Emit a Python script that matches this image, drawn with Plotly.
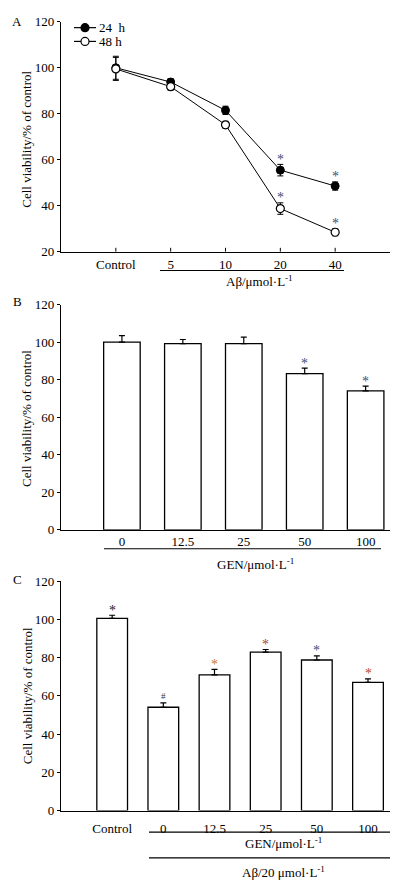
import plotly.graph_objects as go

W, H = 399, 894
FONT = "Liberation Serif"

# ---------------- data ----------------
# Panel A: Aβ concentration, line chart (24 h / 48 h)
a_cats = ["Control", "5", "10", "20", "40"]
a_24h = [100.0, 93.8, 81.5, 55.5, 48.6]
a_24h_err = [5.0, 1.5, 1.8, 2.5, 1.8]
a_48h = [99.5, 91.8, 75.2, 38.8, 28.5]
a_48h_err = [5.0, 1.5, 1.5, 2.5, 1.5]
a_sig = ["", "", "", "*", "*"]

# Panel B: GEN concentration
b_cats = ["0", "12.5", "25", "50", "100"]
b_vals = [100.0, 99.2, 99.2, 83.2, 74.0]
b_err = [3.5, 2.2, 3.5, 3.0, 2.6]
b_sig = ["", "", "", "*", "*"]

# Panel C: Aβ 20 µmol/L + GEN
c_cats = ["Control", "0", "12.5", "25", "50", "100"]
c_vals = [100.5, 54.0, 70.9, 82.8, 78.7, 67.0]
c_err = [1.6, 2.3, 2.9, 1.4, 2.2, 1.8]
c_sig = ["*", "#", "*", "*", "*", "*"]
c_sig_colors = ["#222222", "#333333", "#c9782c", "#a8452e", "#3b4f7a", "#b8452e"]

SIG_BLUE = "#3b4f7a"
A_YMIN = 20


def px(x):
    return x / W


def py(y):
    return 1 - y / H


fig = go.Figure()

# ---- Panel A ----
fig.add_trace(go.Scatter(
    x=a_cats, y=a_24h, mode="lines+markers", name="24  h",
    line=dict(color="black", width=1),
    marker=dict(symbol="circle", size=8, color="black", line=dict(color="black", width=1)),
    error_y=dict(type="data", array=a_24h_err, color="black", thickness=1, width=3),
    xaxis="x", yaxis="y", showlegend=False))
fig.add_trace(go.Scatter(
    x=a_cats, y=a_48h, mode="lines+markers", name="48 h",
    line=dict(color="black", width=1),
    marker=dict(symbol="circle", size=8, color="white", line=dict(color="black", width=1.2)),
    error_y=dict(type="data", array=a_48h_err, color="black", thickness=1, width=3),
    xaxis="x", yaxis="y", showlegend=False))

# ---- Panel B ----
fig.add_trace(go.Bar(
    x=b_cats, y=b_vals, width=0.6,
    marker=dict(color="white", line=dict(color="black", width=1.3)),
    error_y=dict(type="data", array=b_err, arrayminus=[0] * len(b_err), symmetric=False,
                 color="black", thickness=1.2, width=3),
    xaxis="x2", yaxis="y2", showlegend=False))

# ---- Panel C ----
fig.add_trace(go.Bar(
    x=c_cats, y=c_vals, width=0.6,
    marker=dict(color="white", line=dict(color="black", width=1.3)),
    error_y=dict(type="data", array=c_err, arrayminus=[0] * len(c_err), symmetric=False,
                 color="black", thickness=1.2, width=3),
    xaxis="x3", yaxis="y3", showlegend=False))

axis_common = dict(showline=True, linecolor="black", linewidth=1.2, showgrid=False,
                   zeroline=False, tickfont=dict(family=FONT, size=13, color="black"),
                   tickcolor="black", tickwidth=1)

xdom = [px(61), px(390)]
fig.update_layout(
    width=W, height=H,
    margin=dict(l=0, r=0, t=0, b=0),
    paper_bgcolor="white", plot_bgcolor="white",
    font=dict(family=FONT, size=13, color="black"),
    xaxis=dict(**axis_common, domain=xdom, anchor="y", type="category",
               categoryorder="array", categoryarray=a_cats, range=[-1, 5], ticks=""),
    yaxis=dict(**axis_common, domain=[py(249), py(15)], anchor="x", range=[A_YMIN, 120],
               dtick=20, ticks="outside", ticklen=3),
    xaxis2=dict(**axis_common, domain=xdom, anchor="y2", type="category",
                categoryorder="array", categoryarray=b_cats, range=[-1, 4.4], ticks=""),
    yaxis2=dict(**axis_common, domain=[py(531.7), py(302.7)], anchor="x2", range=[0, 120],
                dtick=20, ticks="outside", ticklen=3),
    xaxis3=dict(**axis_common, domain=xdom, anchor="y3", type="category",
                categoryorder="array", categoryarray=c_cats, range=[-1, 5.43], ticks="",
                ticklabelstandoff=6),
    yaxis3=dict(**axis_common, domain=[py(817.3), py(583.8)], anchor="x3", range=[0, 120],
                dtick=20, ticks="outside", ticklen=3),
)

ann = []
shapes = []

# inside (upward) tick marks on panel A's category axis
for i in range(len(a_cats)):
    shapes.append(dict(type="line", xref="x", yref="y", x0=i, x1=i,
                       ysizemode="pixel", yanchor=A_YMIN, y0=0, y1=4,
                       line=dict(color="black", width=1)))


def sig_marks(vals, errs, sigs, xref, yref, colors=None):
    for i, (v, e, s) in enumerate(zip(vals, errs, sigs)):
        if not s:
            continue
        col = colors[i] if colors else SIG_BLUE
        ann.append(dict(x=i, y=v + e, xref=xref, yref=yref, text=s, showarrow=False,
                        yanchor="middle", yshift=5 if s == "*" else 7,
                        font=dict(family=FONT, size=14 if s == "*" else 9, color=col)))


# significance marks (x given as category index)
sig_marks(a_24h, a_24h_err, a_sig, "x", "y")
sig_marks(a_48h, a_48h_err, a_sig, "x", "y")
sig_marks(b_vals, b_err, b_sig, "x2", "y2")
sig_marks(c_vals, c_err, c_sig, "x3", "y3", c_sig_colors)


def text_at(x, y, t, size=13, **kw):
    d = dict(x=px(x), y=py(y), xref="paper", yref="paper", text=t, showarrow=False,
             xanchor="center", yanchor="middle", font=dict(family=FONT, size=size, color="black"))
    d.update(kw)
    ann.append(d)


def hline(x0, x1, y):
    shapes.append(dict(type="line", xref="paper", yref="paper", x0=px(x0), x1=px(x1),
                       y0=py(y), y1=py(y), line=dict(color="black", width=1.2)))


# panel letters
text_at(17, 15, "A", 13)
text_at(17, 300, "B", 13)
text_at(17, 582, "C", 13)

# y titles
ytitle = "Cell viability/% of control"
text_at(27, 135, ytitle, 13, textangle=-90)
text_at(27, 419, ytitle, 13, textangle=-90)
text_at(27, 701, ytitle, 13, textangle=-90)

# group labels under axes
hline(160, 344, 268)
text_at(259, 279, "Aβ/μmol·L<sup>-1</sup>", 13)
hline(104, 381, 551)
text_at(255, 567, "GEN/μmol·L<sup>-1</sup>", 13)
hline(149, 390, 839.3)
text_at(283, 850, "GEN/μmol·L<sup>-1</sup>", 13)
hline(149, 390, 865.3)
text_at(283, 880, "Aβ/20 μmol·L<sup>-1</sup>", 13)

# legend (panel A)
for yy, fill, label in [(21, "black", "24&nbsp; h"), (35, "white", "48 h")]:
    hline(74, 96, yy)
    shapes.append(dict(type="circle", xref="paper", yref="paper", xsizemode="pixel",
                       ysizemode="pixel", xanchor=px(85), yanchor=py(yy),
                       x0=-4, x1=4, y0=-4, y1=4, fillcolor=fill,
                       line=dict(color="black", width=1.2)))
    text_at(97, yy, label, 13, xanchor="left")

fig.update_layout(annotations=ann, shapes=shapes)

fig.write_html("out.html", config={"displayModeBar": False},
               post_script="document.body.style.margin='0';")
